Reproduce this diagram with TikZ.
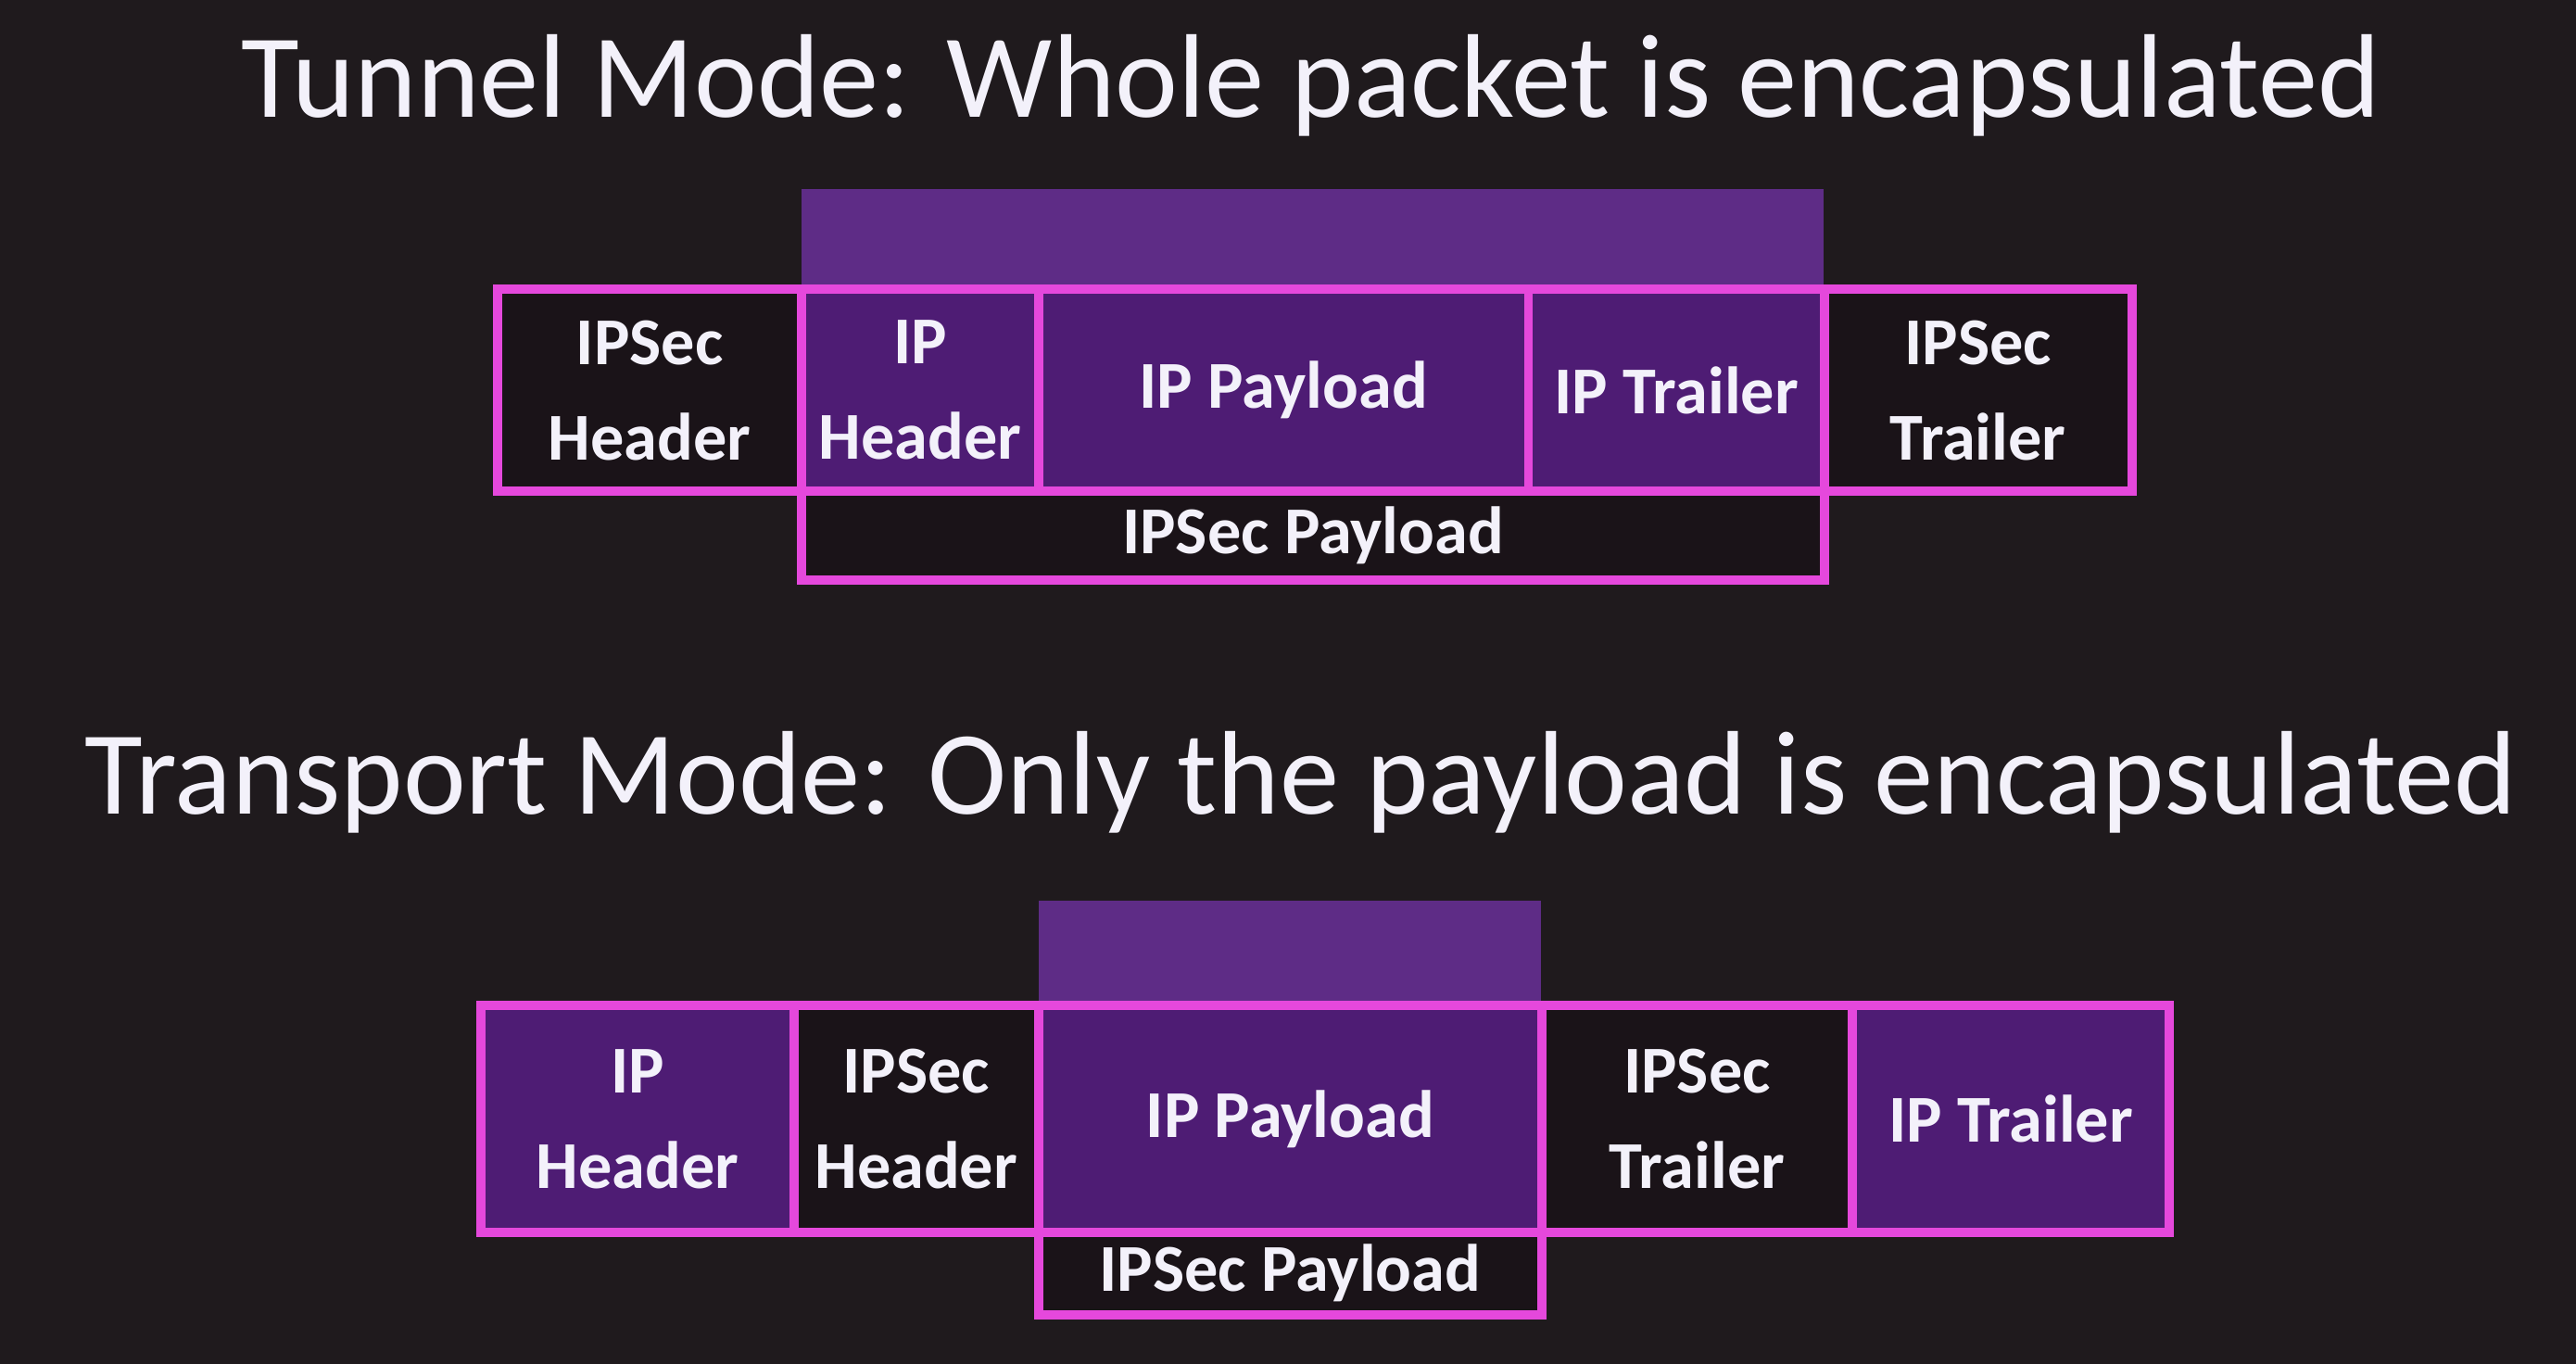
\documentclass[tikz,border=0pt]{standalone}
\usepackage{fontspec}
\setmainfont{Carlito}
\usetikzlibrary{positioning}
\definecolor{fons}{HTML}{1F1A1D}
\definecolor{rosa}{HTML}{E548DC}
\definecolor{lila}{HTML}{4E1C74}
\definecolor{banda}{HTML}{5E2C86}
\definecolor{fosc}{HTML}{1A1318}
\definecolor{blanc}{HTML}{F3F1FA}

\begin{document}
\begin{tikzpicture}[
    x=0.01cm, y=-0.01cm,
    title/.style={text=blanc, font=\fontsize{20.6}{24}\selectfont, inner sep=0pt},
    cell/.style={draw=rosa, line width=1.6pt, inner sep=0pt, outer sep=0pt,
        text=blanc, font=\bfseries\fontsize{11.6}{16.5}\selectfont, align=center},
    ipcell/.style={cell, fill=lila},
    seccell/.style={cell, fill=fosc}
]

% Fons
\fill[fons] (0,0) rectangle (1568,830);
\useasboundingbox (0,0) rectangle (1568,830);

% Mode túnel
\node[title] (tuntitle) at (798,52) {Tunnel Mode: Whole packet is encapsulated};
\fill[banda] (488,115) rectangle (1110,176);
\node[seccell, anchor=north west, minimum width=1.85cm, minimum height=1.23cm]
    (tsechdr) at (303,176) {IPSec\\Header};
\node[ipcell, right=0pt of tsechdr, minimum width=1.44cm, minimum height=1.23cm]
    (tiphdr) {IP\\Header};
\node[ipcell, right=0pt of tiphdr, minimum width=2.98cm, minimum height=1.23cm]
    (tippay) {IP Payload};
\node[ipcell, right=0pt of tippay, minimum width=1.80cm, minimum height=1.23cm]
    (tiptrl) {IP Trailer};
\node[seccell, right=0pt of tiptrl, minimum width=1.87cm, minimum height=1.23cm]
    (tsectrl) {IPSec\\Trailer};
\node[seccell, anchor=north west, minimum width=6.22cm, minimum height=0.54cm]
    (tsecpay) at (tiphdr.south west) {IPSec Payload};

% Mode transport
\node[title] (trntitle) at (792,476) {Transport Mode: Only the payload is encapsulated};
\fill[banda] (632,548) rectangle (938,612);
\node[ipcell, anchor=north west, minimum width=1.90cm, minimum height=1.38cm]
    (riphdr) at (293,612) {IP\\Header};
\node[seccell, right=0pt of riphdr, minimum width=1.49cm, minimum height=1.38cm]
    (rsechdr) {IPSec\\Header};
\node[ipcell, right=0pt of rsechdr, minimum width=3.06cm, minimum height=1.38cm]
    (rippay) {IP Payload};
\node[seccell, right=0pt of rippay, minimum width=1.89cm, minimum height=1.38cm]
    (rsectrl) {IPSec\\Trailer};
\node[ipcell, right=0pt of rsectrl, minimum width=1.93cm, minimum height=1.38cm]
    (riptrl) {IP Trailer};
\node[seccell, anchor=north west, minimum width=3.06cm, minimum height=0.50cm]
    (rsecpay) at (rippay.south west) {IPSec Payload};

\end{tikzpicture}
\end{document}
